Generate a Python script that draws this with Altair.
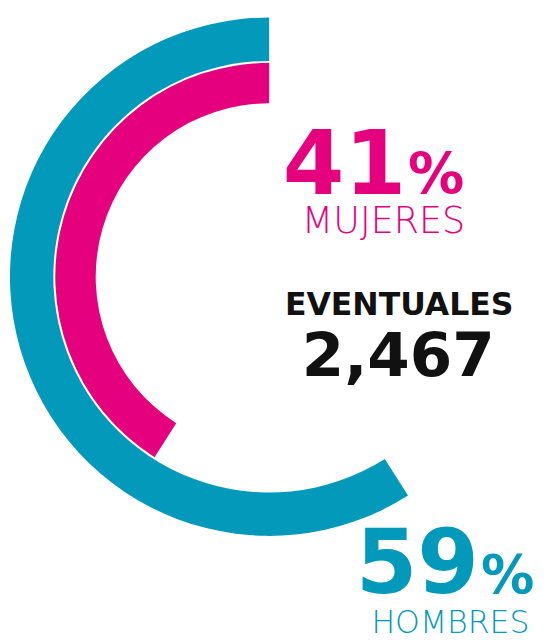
import altair as alt
import pandas as pd

categories = ["HOMBRES", "MUJERES"]
percent = [59, 41]
total_label = ["EVENTUALES"]
total_value = [2467]

TEAL = "#0399BB"
PINK = "#E5007E"

df = pd.DataFrame({"grupo": categories, "pct": percent})
tot = pd.DataFrame({"label": total_label, "value": total_value})

CX, CY = 265, 268

base = alt.Chart(df)
color = alt.Color("grupo:N", scale=alt.Scale(domain=categories, range=[TEAL, PINK]), legend=None)


def arc(cat, r_out, r_in):
    return (
        base.transform_filter(alt.datum.grupo == cat)
        .transform_calculate(start="2*PI*(1-datum.pct/100)", end="2*PI")
        .mark_arc()
        .encode(
            theta=alt.Theta("start:Q", scale=None, stack=None),
            theta2="end:Q",
            radius=alt.value(r_out),
            radius2=alt.value(r_in),
            x=alt.value(CX),
            y=alt.value(CY),
            color=color,
        )
    )


def num(cat, x, y, size, col):
    return (
        base.transform_filter(alt.datum.grupo == cat)
        .mark_text(font="DejaVu Sans", fontWeight="bold", fontSize=size, align="right",
                   baseline="alphabetic", color=col)
        .encode(text=alt.Text("pct:Q", format="d"), x=alt.value(x), y=alt.value(y))
    )


def pctsign(cat, x, y, size, col):
    return (
        base.transform_filter(alt.datum.grupo == cat)
        .mark_text(font="DejaVu Sans", fontWeight="bold", fontSize=size, align="left",
                   baseline="alphabetic", color=col, text="%")
        .encode(x=alt.value(x), y=alt.value(y))
    )


def name(cat, x, y, size, col):
    return (
        base.transform_filter(alt.datum.grupo == cat)
        .mark_text(font="DejaVu Sans", fontWeight=300, fontSize=size, align="center",
                   baseline="alphabetic", color=col)
        .encode(text="grupo:N", x=alt.value(x), y=alt.value(y))
    )


tot_label = alt.Chart(tot).mark_text(
    font="DejaVu Sans", fontWeight="bold", fontSize=32, align="center",
    baseline="alphabetic", color="#111111"
).encode(text="label:N", x=alt.value(397), y=alt.value(307))

tot_value = alt.Chart(tot).mark_text(
    font="DejaVu Sans", fontWeight="bold", fontSize=62, align="center",
    baseline="alphabetic", color="#111111"
).encode(text=alt.Text("value:Q", format=","), x=alt.value(396), y=alt.value(369))

chart = alt.layer(
    arc("HOMBRES", 263, 219),
    arc("MUJERES", 217, 176),
    num("MUJERES", 404, 184, 90, PINK),
    pctsign("MUJERES", 406, 184, 57, PINK),
    name("MUJERES", 381, 224, 37, PINK),
    tot_label,
    tot_value,
    num("HOMBRES", 478, 589, 90, TEAL),
    pctsign("HOMBRES", 480, 589, 54, TEAL),
    name("HOMBRES", 449, 630, 32, TEAL),
).properties(
    width=550, height=634, padding=0, autosize=alt.AutoSizeParams(type="none"),
    background="#ffffff"
).configure_view(stroke=None)

chart.save("out.html", embed_options={"renderer": "svg", "actions": False})
